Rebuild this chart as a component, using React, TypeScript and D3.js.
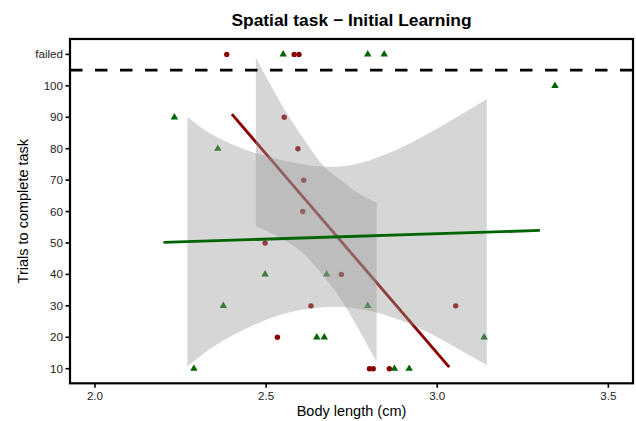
import React from 'react';
import * as d3 from 'd3';

// points; 110 = "failed"
const redX = [2.385, 2.582, 2.596, 2.553, 2.593, 2.61, 2.607, 2.497, 2.631, 2.533, 2.72, 3.054, 2.802, 2.813, 2.86];
const redY = [110, 110, 110, 90, 80, 70, 60, 50, 30, 20, 40, 30, 10, 10, 10];

const greenX = [2.232, 2.359, 2.497, 2.375, 2.289, 2.648, 2.67, 2.677, 2.797, 2.875, 2.918, 3.137, 3.344, 2.55, 2.797, 2.845];
const greenY = [90, 80, 40, 30, 10, 20, 20, 40, 30, 10, 10, 20, 100, 110, 110, 110];

// fitted lines (end points)
const redLineX = [2.4, 3.035];
const redLineY = [91, 10.5];
const greenLineX = [2.2, 3.3];
const greenLineY = [50.2, 54.0];

// confidence bands
const greenBandX = [2.27, 2.35, 2.45, 2.55, 2.65, 2.75, 2.85, 2.95, 3.05, 3.145];
const greenBandLow = [10.7, 17.3, 23.2, 27.4, 29.4, 29.4, 27.0, 22.8, 17.0, 11.1];
const greenBandHigh = [90.1, 84.0, 79.3, 76.3, 74.4, 74.8, 78.2, 83.4, 89.6, 95.8];

const redBandX = [2.47, 2.52, 2.57, 2.62, 2.67, 2.72, 2.77, 2.823];
const redBandLow = [55.3, 52.9, 49.8, 45.5, 39.2, 31.9, 22.6, 12.2];
const redBandHigh = [108.9, 98.8, 89.6, 81.5, 74.3, 69.8, 65.8, 62.8];

const yTicks = [10, 20, 30, 40, 50, 60, 70, 80, 90, 100, 110];
const yTickLabels = ['10', '20', '30', '40', '50', '60', '70', '80', '90', '100', 'failed'];
const xTicks = [2.0, 2.5, 3.0, 3.5];
const failLine = 105;

const W = 636;
const H = 421;
const left = 70, right = 633, top = 39, bottom = 383.3;
const font = '"Liberation Sans", Arial, sans-serif';

export default function App() {
  const x = d3.scaleLinear().domain([1.927, 3.572]).range([left, right]);
  const y = d3.scaleLinear().domain([5.36, 114.9]).range([bottom, top]);

  const band = (xs: number[], lo: number[], hi: number[]) =>
    d3.area<number>()
      .x(i => x(xs[i]))
      .y0(i => y(lo[i]))
      .y1(i => y(hi[i]))
      .curve(d3.curveNatural)(d3.range(xs.length)) as string;

  const line = (xs: number[], ys: number[]) =>
    d3.line<number>().x(i => x(xs[i])).y(i => y(ys[i]))(d3.range(xs.length)) as string;

  const tri = d3.symbol(d3.symbolTriangle, 24)() as string;

  return (
    <svg width={W} height={H} style={{ position: 'absolute', left: 0, top: 0, background: '#fff' }}>
      <defs>
        <clipPath id="panel">
          <rect x={left} y={top} width={right - left} height={bottom - top} />
        </clipPath>
      </defs>
      <text x={(left + right) / 2} y={26} textAnchor="middle" fontFamily={font} fontWeight="bold" fontSize={17.4} fill="#000">
        Spatial task − Initial Learning
      </text>

      <g clipPath="url(#panel)">
        {redX.map((v, i) => (
          <circle key={'r' + i} cx={x(v)} cy={y(redY[i])} r={2.7} fill="#8B0000" />
        ))}
        {greenX.map((v, i) => (
          <path key={'g' + i} d={tri} transform={`translate(${x(v)},${y(greenY[i])})`} fill="#006400" />
        ))}
        <path d={line(redLineX, redLineY)} stroke="#8B0000" strokeWidth={2.9} fill="none" />
        <path d={band(greenBandX, greenBandLow, greenBandHigh)} fill="#999999" fillOpacity={0.4} />
        <path d={band(redBandX, redBandLow, redBandHigh)} fill="#999999" fillOpacity={0.4} />
        <path d={line(greenLineX, greenLineY)} stroke="#006400" strokeWidth={2.9} fill="none" />
        <line x1={left} x2={right} y1={y(failLine)} y2={y(failLine)} stroke="#000" strokeWidth={2.8} strokeDasharray="12.5 12.5" />
      </g>

      <rect x={left} y={top} width={right - left} height={bottom - top} fill="none" stroke="#000" strokeWidth={2.2} />

      {yTicks.map((t, i) => (
        <g key={'yt' + i}>
          <line x1={left - 4.5} x2={left} y1={y(t)} y2={y(t)} stroke="#000" strokeWidth={1.6} />
          <text x={left - 7} y={y(t)} dy="0.35em" textAnchor="end" fontFamily={font} fontSize={11.6} fill="#222">
            {yTickLabels[i]}
          </text>
        </g>
      ))}
      {xTicks.map((t, i) => (
        <g key={'xt' + i}>
          <line x1={x(t)} x2={x(t)} y1={bottom} y2={bottom + 4.5} stroke="#000" strokeWidth={1.6} />
          <text x={x(t)} y={bottom + 17} textAnchor="middle" fontFamily={font} fontSize={11.6} fill="#222">
            {d3.format('.1f')(t)}
          </text>
        </g>
      ))}

      <text x={(left + right) / 2} y={416} textAnchor="middle" fontFamily={font} fontSize={14.5} fill="#000">
        Body length (cm)
      </text>
      <text transform={`translate(28,${(top + bottom) / 2}) rotate(-90)`} textAnchor="middle" fontFamily={font} fontSize={14.5} fill="#000">
        Trials to complete task
      </text>
    </svg>
  );
}
